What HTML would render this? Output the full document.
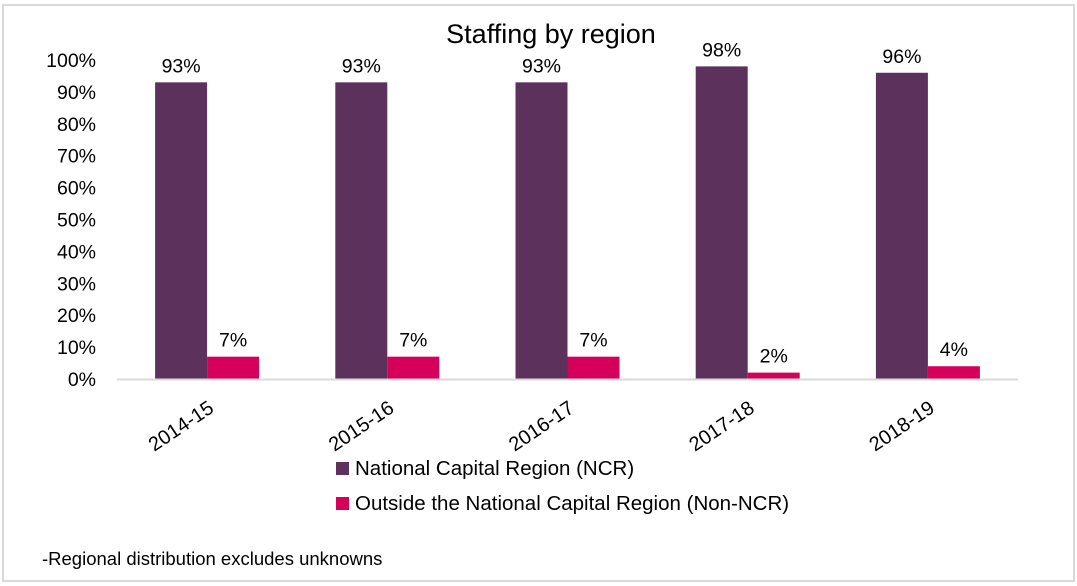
<!DOCTYPE html>
<html><head><meta charset="utf-8"><style>
html,body{margin:0;padding:0;background:#fff;}
svg{display:block;font-family:"Liberation Sans",sans-serif;}
</style></head><body>
<svg id="chart" width="1077" height="586">
<rect x="3" y="5" width="1071" height="576" fill="#fff" stroke="#d9d9d9" stroke-width="2"/>
<text x="551" y="43" text-anchor="middle" font-size="27" fill="#000">Staffing by region</text>
<g id="yticks"></g><g id="bars"></g><g id="xlabels"></g>
<line x1="117" y1="379.5" x2="1018" y2="379.5" stroke="#d9d9d9" stroke-width="2"/>
<g>
<rect x="336" y="462" width="13" height="13" fill="#5c315c"/>
<text x="355" y="475" font-size="20.5">National Capital Region (NCR)</text>
<rect x="336" y="497" width="13" height="13" fill="#d5005a"/>
<text x="355" y="510" font-size="20.5">Outside the National Capital Region (Non-NCR)</text>
</g>
<text x="42" y="565" font-size="18.5">-Regional distribution excludes unknowns</text>
</svg>
<script>
const categories=["2014-15","2015-16","2016-17","2017-18","2018-19"];
const ncrValues=[93,93,93,98,96];
const nonNcrValues=[7,7,7,2,4];
const yTicks=[0,10,20,30,40,50,60,70,80,90,100];
const NS="http://www.w3.org/2000/svg";
const left=117,right=1018,base=379,top100=60;
const y=v=>base-(base-top100)*v/100;
const band=(right-left)/categories.length;
const x=i=>left+band*i+band/2;
const bw=52;
function mk(tag,attrs,parent){const e=document.createElementNS(NS,tag);for(const k in attrs)e.setAttribute(k,attrs[k]);parent.appendChild(e);return e;}
const yt=document.getElementById('yticks');
yTicks.forEach(t=>{const e=mk('text',{x:96,y:y(t)+7,'text-anchor':'end','font-size':19.5},yt);


e.textContent=t+'%';});
const bg=document.getElementById('bars');
categories.forEach((c,i)=>{
 const cx=x(i);
 const r1=mk('rect',{x:cx-bw,y:y(ncrValues[i]),width:bw,height:base-y(ncrValues[i]),fill:'#5c315c'},bg);
 
 
 const r2=mk('rect',{x:cx,y:y(nonNcrValues[i]),width:bw,height:base-y(nonNcrValues[i]),fill:'#d5005a'},bg);
 
 
 const l1=mk('text',{x:cx-bw/2,y:y(ncrValues[i])-10,'text-anchor':'middle','font-size':19.5},bg);
 
 
 l1.textContent=ncrValues[i]+'%';
 const l2=mk('text',{x:cx+bw/2,y:y(nonNcrValues[i])-10,'text-anchor':'middle','font-size':19.5},bg);
 
 
 l2.textContent=nonNcrValues[i]+'%';
 const xl=mk('text',{x:0,y:0,'text-anchor':'end','font-size':20,transform:`translate(${cx+8},${base+32}) rotate(-34)`},document.getElementById('xlabels'));
 
 
 xl.textContent=c;
});
</script>
</body></html>
